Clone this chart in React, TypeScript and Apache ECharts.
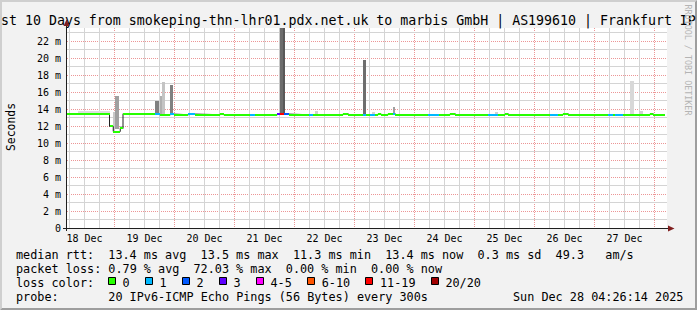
import React, { useEffect, useRef } from 'react';
import * as echarts from 'echarts';

// visible part of the (centred, overflowing) title
const TITLE = 'st 10 Days from smokeping-thn-lhr01.pdx.net.uk to marbis GmbH | AS199610 | Frankfurt IP';
const Y_NAME = 'Seconds';
const WATERMARK = 'RRDTOOL / TOBI OETIKER';

// x: hours since 18 Dec 00:00
const X_MIN = 5.0;
const X_MAX = 245.0;
const Y_MAX = 23.53;
const Y_TICKS = [0, 2, 4, 6, 8, 10, 12, 14, 16, 18, 20, 22];
const DAY_LABELS = ['18 Dec', '19 Dec', '20 Dec', '21 Dec', '22 Dec', '23 Dec', '24 Dec', '25 Dec', '26 Dec', '27 Dec'];
const DAY_LABEL_HOURS = [12, 36, 60, 84, 108, 132, 156, 180, 204, 228];
const MINOR_GRID_HOURS = [6, 12, 18, 30, 36, 42, 54, 60, 66, 78, 84, 90, 102, 108, 114, 126, 132, 138, 150, 156, 162, 174, 180, 186, 198, 204, 210, 222, 228, 234];
const MINOR_GRID_MS = [1, 3, 5, 7, 9, 11, 13, 15, 17, 19, 21, 23];

// median rtt steps (start hour, ms, lost pings of 20)
const medianStart = [5.0, 22.0, 23.5, 26.3, 27.4, 40.3, 42.0, 46.3, 47.6, 53.5, 56.3, 66.3, 67.6, 78.3, 80.3, 89.0, 90.3, 91.6, 93.6, 101.6, 103.2, 115.5, 117.5, 123.5, 124.6, 126.3, 128.3, 129.5, 130.6, 133.5, 135.5, 136.3, 149.5, 153.6, 158.3, 160.3, 173.5, 177.5, 180.3, 181.5, 198.3, 201.5, 203.5, 205.5, 221.5, 223.5, 224.3, 227.5, 238.3, 239.5];
const medianMs = [13.45, 11.95, 11.35, 11.8, 13.45, 13.45, 13.33, 13.4, 13.33, 13.4, 13.33, 13.45, 13.33, 13.33, 13.33, 13.4, 13.45, 13.4, 13.33, 13.33, 13.33, 13.45, 13.33, 13.33, 13.33, 13.33, 13.33, 13.45, 13.33, 13.45, 13.45, 13.33, 13.33, 13.33, 13.45, 13.33, 13.33, 13.33, 13.45, 13.33, 13.33, 13.33, 13.45, 13.33, 13.33, 13.33, 13.33, 13.33, 13.45, 13.33];
const medianLoss = [0, 0, 0, 0, 0, 1, 0, 1, 0, 1, 0, 0, 0, 1, 0, 3, 15, 2, 0, 1, 0, 0, 0, 1, 0, 1, 0, 0, 0, 0, 1, 0, 1, 0, 0, 0, 1, 0, 0, 0, 1, 0, 0, 0, 1, 0, 1, 0, 0, 0];
const MEDIAN_END = 244.2;

// smoke (spread of ping rtts)
const smokeStart = [9.5, 23.4, 24.0, 26.0, 40.3, 42.0, 43.1, 46.3, 89.6, 90.3, 91.4, 104.3, 123.4, 127.1, 135.4, 176.3, 230.0, 233.9];
const smokeEnd = [22.3, 24.0, 25.6, 27.6, 41.6, 43.1, 44.3, 47.4, 90.3, 91.4, 92.3, 105.2, 124.4, 128.3, 136.3, 177.5, 231.6, 235.5];
const smokeLow = [13.5, 11.4, 11.6, 11.6, 13.4, 13.3, 13.3, 13.4, 13.4, 13.4, 13.4, 13.4, 13.4, 13.4, 13.4, 13.4, 13.4, 13.4];
const smokeHigh = [13.72, 13.7, 15.5, 12.05, 15.0, 15.5, 17.2, 16.8, 23.6, 23.6, 23.6, 13.8, 19.8, 13.7, 14.27, 13.7, 17.25, 13.75];
const smokeGrey = [222, 200, 160, 187, 128, 176, 196, 128, 200, 108, 88, 208, 110, 212, 160, 208, 216, 208];

const LOSS_LABELS = ['0', '1', '2', '3', '4-5', '6-10', '11-19', '20/20'];
const LOSS_MAX = [0, 1, 2, 3, 5, 10, 19, 20];
const LOSS_COLORS = ['#26ff00', '#00b8ff', '#0059ff', '#5e00ff', '#ff00ff', '#ff5500', '#ff0000', '#a10000'];

const LEGEND_LINES = [
  'median rtt:  13.4 ms avg  13.5 ms max  11.3 ms min  13.4 ms now  0.3 ms sd  49.3   am/s',
  'packet loss: 0.79 % avg  72.03 % max  0.00 % min  0.00 % now',
  'loss color:',
  'probe:       20 IPv6-ICMP Echo Pings (56 Bytes) every 300s',
];
const PROBE_DATE = 'Sun Dec 28 04:26:14 2025';
const PROBE_DATE_COL = 70;

const W = 697;
const H = 310;
const G_LEFT = 67;
const G_TOP = 28;
const G_W = 600;
const G_H = 200;
const MONO = '"DejaVu Sans Mono", monospace';
const CW = 7.1;
const LEG_FS = 11.8;
const LEG_X0 = 16;
const LEG_BASE = [259, 273, 287, 301];

const MINOR_C = '#d4d4d4';
const MAJOR_C = '#ec9696';

function lossColor(n: number): string {
  for (let i = 0; i < LOSS_MAX.length; i++) if (n <= LOSS_MAX[i]) return LOSS_COLORS[i];
  return LOSS_COLORS[LOSS_COLORS.length - 1];
}

function textEl(text: string, x: number, y: number, size: number, extra: any = {}) {
  return {
    type: 'text',
    x,
    y,
    z: 50,
    silent: true,
    rotation: extra.rotation || 0,
    style: {
      text,
      fill: extra.fill || '#000',
      font: `${size}px ${MONO}`,
      align: extra.align || 'left',
      textAlign: extra.align || 'left',
      verticalAlign: 'middle',
      textVerticalAlign: 'middle',
    },
  };
}

function phraseEls(line: string, baseline: number): any[] {
  const out: any[] = [];
  const re = /\S+(?: \S+)*/g;
  let m: RegExpExecArray | null;
  while ((m = re.exec(line)) !== null) {
    out.push(textEl(m[0], LEG_X0 + m.index * CW, baseline - 0.346 * LEG_FS, LEG_FS));
  }
  return out;
}

const hiddenAxisParts = {
  axisLabel: { show: false },
  axisTick: { show: false },
  axisLine: { show: false },
};

export default function App() {
  const ref = useRef<HTMLDivElement>(null);
  useEffect(() => {
    document.body.style.margin = '0';
    if (!ref.current) return;
    const chart = echarts.init(ref.current, null, { renderer: 'svg', width: W, height: H });

    const medianData = medianStart.map((s, i) => [s, i + 1 < medianStart.length ? medianStart[i + 1] : MEDIAN_END, medianMs[i], medianLoss[i]]);
    const stepData = medianStart.map((s, i) => [s, medianMs[i]]);
    stepData.push([MEDIAN_END, medianMs[medianMs.length - 1]]);
    const smokeData = smokeStart.map((s, i) => [s, smokeEnd[i], smokeLow[i], smokeHigh[i], smokeGrey[i]]);
    // minor grid items: [x, y, kind] (kind 0 = vertical at x, 1 = horizontal at y)
    const minorData: number[][] = [];
    MINOR_GRID_HOURS.forEach((h) => minorData.push([h, 1, 0]));
    MINOR_GRID_MS.forEach((v) => minorData.push([X_MIN + 1, v, 1]));

    const graphics: any[] = [];
    graphics.push({ type: 'rect', z: -100, silent: true, shape: { x: G_LEFT, y: G_TOP, width: G_W, height: G_H }, style: { fill: '#ffffff' } });
    graphics.push({ type: 'polygon', z: 40, silent: true, shape: { points: [[0, 0], [W, 0], [W - 2, 2], [2, 2], [2, H - 2], [0, H]] }, style: { fill: '#cfcfcf' } });
    graphics.push({ type: 'polygon', z: 40, silent: true, shape: { points: [[W, 0], [W, H], [0, H], [2, H - 2], [W - 2, H - 2], [W - 2, 2]] }, style: { fill: '#9e9e9e' } });
    graphics.push(textEl(TITLE, 1, 24.6 - 0.346 * 13.28, 13.28));
    graphics.push(textEl(Y_NAME, 11.1, 127, 11.4, { rotation: Math.PI / 2, align: 'center' }));
    graphics.push(textEl(WATERMARK, 688.3, 60, 8.4, { rotation: -Math.PI / 2, align: 'center', fill: '#b4b4b4' }));
    const axisStroke = { stroke: '#1f1f1f', lineWidth: 1 };
    graphics.push({ type: 'line', z: 50, silent: true, shape: { x1: G_LEFT - 0.5, y1: G_TOP + G_H + 3, x2: G_LEFT - 0.5, y2: G_TOP - 3 }, style: axisStroke });
    graphics.push({ type: 'line', z: 50, silent: true, shape: { x1: G_LEFT - 4, y1: G_TOP + G_H + 0.5, x2: G_LEFT + G_W + 2, y2: G_TOP + G_H + 0.5 }, style: axisStroke });
    graphics.push({ type: 'polygon', z: 51, silent: true, shape: { points: [[G_LEFT - 0.5, G_TOP - 8.5], [G_LEFT - 3.5, G_TOP - 2], [G_LEFT + 2.5, G_TOP - 2]] }, style: { fill: '#801f1f' } });
    graphics.push({ type: 'polygon', z: 51, silent: true, shape: { points: [[G_LEFT + G_W + 7.5, G_TOP + G_H + 0.5], [G_LEFT + G_W + 1, G_TOP + G_H - 2.5], [G_LEFT + G_W + 1, G_TOP + G_H + 3.5]] }, style: { fill: '#801f1f' } });
    LEGEND_LINES.forEach((line, i) => graphics.push(...phraseEls(line, LEG_BASE[i])));
    graphics.push(textEl(PROBE_DATE, LEG_X0 + PROBE_DATE_COL * CW, LEG_BASE[3] - 0.346 * LEG_FS, LEG_FS));
    let sx = LEG_X0 + 13 * CW - 0.3;
    LOSS_LABELS.forEach((lab, i) => {
      graphics.push({ type: 'rect', z: 50, silent: true, shape: { x: Math.round(sx) + 0.5, y: 277.5, width: 7, height: 7 }, style: { fill: LOSS_COLORS[i], stroke: '#000', lineWidth: 1 } });
      const lx = sx + 14.5;
      graphics.push(textEl(lab, lx, LEG_BASE[2] - 0.346 * LEG_FS, LEG_FS));
      sx = lx + lab.length * CW + 15.4;
    });

    chart.setOption({
      animation: false,
      backgroundColor: '#f2f2f2',
      textStyle: { fontFamily: MONO },
      grid: { left: G_LEFT, top: G_TOP, width: G_W, height: G_H, show: false, containLabel: false, outerBoundsMode: 'none' },
      xAxis: [
        {
          type: 'value',
          position: 'bottom',
          min: X_MIN,
          max: X_MAX,
          axisLine: { show: false },
          axisTick: { show: false },
          splitLine: { show: false },
          axisLabel: {
            customValues: DAY_LABEL_HOURS,
            formatter: (v: number) => {
              const i = DAY_LABEL_HOURS.indexOf(Math.round(v));
              return i >= 0 ? DAY_LABELS[i] : '';
            },
            fontFamily: MONO,
            fontSize: 10,
            color: '#000',
            margin: 5,
          },
        },
        {
          type: 'value',
          position: 'top',
          min: X_MIN / 24,
          max: X_MAX / 24,
          splitNumber: 10,
          minInterval: 1,
          maxInterval: 1,
          ...hiddenAxisParts,
          splitLine: { show: true, showMinLine: false, showMaxLine: false, lineStyle: { color: MAJOR_C, width: 1, type: 'dotted' } },
        },
      ],
      yAxis: {
        type: 'value',
        position: 'left',
        min: 0,
        max: Y_MAX,
        interval: 2,
        axisLine: { show: false },
        axisTick: { show: false },
        splitLine: { show: true, showMinLine: false, showMaxLine: false, lineStyle: { color: MAJOR_C, width: 1, type: 'dotted' } },
        axisLabel: {
          customValues: Y_TICKS,
          formatter: (v: number) => (v === 0 ? '0' : `${v} m`),
          fontFamily: MONO,
          fontSize: 10,
          color: '#000',
          margin: 6,
        },
      },
      graphic: { elements: graphics },
      series: [
        {
          type: 'custom',
          name: 'minor grid',
          xAxisIndex: 0,
          z: 2,
          silent: true,
          data: minorData,
          renderItem: (params: any, api: any) => {
            const kind = api.value(2);
            if (kind === 0) {
              const a = api.coord([api.value(0), Y_MAX]);
              const b = api.coord([api.value(0), 0]);
              const x = Math.floor(a[0]);
              const y0 = Math.round(a[1]);
              return { type: 'rect', shape: { x, y: y0, width: 1, height: Math.round(b[1]) - y0 }, style: { fill: MINOR_C } };
            }
            const a = api.coord([X_MIN, api.value(1)]);
            const b = api.coord([X_MAX, api.value(1)]);
            const x0 = Math.round(a[0]);
            return { type: 'rect', shape: { x: x0, y: Math.floor(a[1]), width: Math.round(b[0]) - x0, height: 1 }, style: { fill: MINOR_C } };
          },
        },
        {
          type: 'custom',
          name: 'smoke',
          xAxisIndex: 0,
          z: 3,
          silent: true,
          data: smokeData,
          renderItem: (params: any, api: any) => {
            const hi = Math.min(api.value(3), Y_MAX);
            const p0 = api.coord([api.value(0), hi]);
            const p1 = api.coord([api.value(1), api.value(2)]);
            const x0 = Math.round(p0[0]);
            const x1 = Math.round(p1[0]);
            const g = api.value(4);
            return { type: 'rect', shape: { x: x0, y: Math.round(p0[1]), width: Math.max(1, x1 - x0), height: Math.round(p1[1]) - Math.round(p0[1]) }, style: { fill: `rgb(${g},${g},${g})` } };
          },
        },
        {
          type: 'line',
          name: 'median',
          xAxisIndex: 0,
          z: 4,
          silent: true,
          step: 'end',
          symbol: 'none',
          data: stepData,
          lineStyle: { color: '#202020', width: 1 },
        },
        {
          type: 'custom',
          name: 'median loss',
          xAxisIndex: 0,
          z: 5,
          silent: true,
          data: medianData,
          renderItem: (params: any, api: any) => {
            const p0 = api.coord([api.value(0), api.value(2)]);
            const p1 = api.coord([api.value(1), api.value(2)]);
            const x0 = Math.round(p0[0]);
            const x1 = Math.round(p1[0]);
            return { type: 'rect', shape: { x: x0, y: Math.round(p0[1] - 1), width: Math.max(1, x1 - x0), height: 2 }, style: { fill: lossColor(api.value(3)) } };
          },
        },
      ],
    });
    return () => chart.dispose();
  }, []);
  return <div ref={ref} style={{ width: W, height: H }} />;
}
